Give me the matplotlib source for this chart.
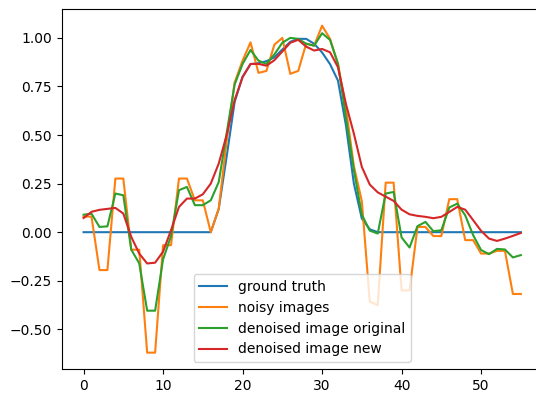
import matplotlib
matplotlib.use('Agg')
from matplotlib import pyplot as plt
import numpy as np

# values, one per sample (56 samples)
ground_truth = [0, 0, 0, 0, 0, 0, 0, 0, 0, 0, 0, 0, 0, 0, 0, 0, 0, 0.12,
                0.39, 0.67, 0.80, 0.865, 0.87, 0.88, 0.90, 0.94, 0.98, 0.995,
                0.995, 0.97, 0.925, 0.865, 0.78, 0.55, 0.25, 0.07, 0.015, 0,
                0, 0, 0, 0, 0, 0, 0, 0, 0, 0, 0, 0, 0, 0, 0, 0, 0, 0]

noisy = [0.08, 0.08, -0.195, -0.195, 0.276, 0.276, -0.09, -0.09, -0.62, -0.62,
         -0.067, -0.067, 0.276, 0.276, 0.164, 0.164, 0.0, 0.12, 0.47, 0.77,
         0.883, 0.977, 0.82, 0.83, 0.965, 1.0, 0.815, 0.83, 0.97, 0.96,
         1.063, 0.995, 0.866, 0.64, 0.34, 0.16, -0.358, -0.375, 0.255, 0.255,
         -0.30, -0.30, 0.027, 0.027, -0.02, -0.02, 0.17, 0.17, -0.041, -0.041,
         -0.11, -0.11, -0.096, -0.096, -0.318, -0.318]

denoised_orig = [0.09, 0.095, 0.027, 0.03, 0.199, 0.19, -0.09, -0.16, -0.404, -0.404,
                 -0.14, -0.02, 0.216, 0.233, 0.139, 0.139, 0.164, 0.258, 0.51, 0.76,
                 0.866, 0.938, 0.883, 0.866, 0.915, 0.975, 1.0, 0.995, 0.97, 0.96,
                 1.024, 0.99, 0.866, 0.59, 0.32, 0.09, 0.008, -0.007, 0.199, 0.207,
                 -0.027, -0.079, 0.031, 0.053, 0.005, 0.01, 0.127, 0.147, 0.087, -0.015,
                 -0.092, -0.113, -0.086, -0.089, -0.13, -0.118]

denoised_new = [0.073, 0.105, 0.115, 0.12, 0.125, 0.096, -0.024, -0.11, -0.161, -0.157,
                -0.1, 0.01, 0.13, 0.173, 0.173, 0.195, 0.25, 0.353, 0.50, 0.68,
                0.798, 0.866, 0.866, 0.857, 0.885, 0.93, 0.975, 0.99, 0.955, 0.935,
                0.943, 0.926, 0.849, 0.66, 0.507, 0.336, 0.245, 0.205, 0.183, 0.161,
                0.116, 0.092, 0.084, 0.079, 0.072, 0.079, 0.104, 0.13, 0.116, 0.062,
                0.007, -0.033, -0.045, -0.033, -0.019, -0.004]

x = np.arange(len(ground_truth))

fig = plt.figure(figsize=(5.36, 3.94), dpi=100)
# axes runs a bit past the right edge, like the cropped reference
ax = fig.add_axes([61.7 / 536, 25 / 394, 481 / 536, 359.7 / 394])

ax.plot(x, ground_truth, label='ground truth')
ax.plot(x, noisy, label='noisy images')
ax.plot(x, denoised_orig, label='denoised image original')
ax.plot(x, denoised_new, label='denoised image new')
ax.legend(loc='lower center')

fig.savefig('out.png', dpi=100)
